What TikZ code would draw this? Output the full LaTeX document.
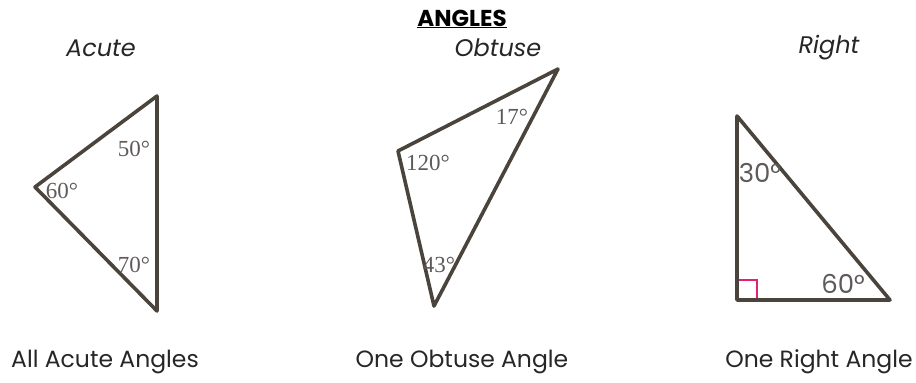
\documentclass[tikz,border=0pt]{standalone}
\usepackage{fontspec}
\setmainfont{Poppins}
\newfontfamily\degfont{Liberation Serif}
\usetikzlibrary{positioning}
\usepackage{xcolor}
\definecolor{edge}{RGB}{74,68,61}
\definecolor{deg}{RGB}{95,90,90}
\definecolor{rightmark}{RGB}{230,30,120}

\begin{document}
\begin{tikzpicture}[
    x=1pt, y=-1pt,
    tri/.style={draw=edge, line width=3.6pt, line join=round},
    head/.style={font=\fontsize{24}{26}\selectfont\itshape, text=black!85},
    caption/.style={font=\fontsize{23.5}{25}\selectfont, text=black!85},
    ang/.style={font=\degfont\fontsize{23}{24}\selectfont, text=deg, inner sep=0pt},
    bigang/.style={font=\fontsize{26}{28}\selectfont, text=deg, inner sep=0pt},
]
\useasboundingbox (0,0) rectangle (916,383);

\node[font=\fontsize{23}{25}\selectfont\bfseries] (title) at (462,19) {\underline{ANGLES}};

% Headings
\node[head] (hacute) at (101,48) {Acute};
\node[head] (hobtuse) at (498,48) {Obtuse};
\node[head] (hright) at (829,48) {Right};

% Acute
\coordinate (a1) at (35,187);
\coordinate (a2) at (157,96);
\coordinate (a3) at (157,311);
\draw[tri] (a1) -- (a2) -- (a3) -- cycle;
\node[ang] (a50) at (134,149) {50\textdegree};
\node[ang] (a60) at (62,191) {60\textdegree};
\node[ang] (a70) at (134,265) {70\textdegree};

% Obtuse
\coordinate (o1) at (398,151);
\coordinate (o2) at (558,69);
\coordinate (o3) at (434,306);
\draw[tri] (o1) -- (o2) -- (o3) -- cycle;
\node[ang] (o17) at (512,117) {17\textdegree};
\node[ang] (o120) at (428,163) {120\textdegree};
\node[ang] (o43) at (439,265) {43\textdegree};

% Right
\coordinate (r1) at (737,116);
\coordinate (r2) at (737,300);
\coordinate (r3) at (890,300);
\draw[rightmark, line width=1.3pt] (737,280) -| (757,300);
\draw[tri] (r1) -- (r2) -- (r3) -- cycle;
\node[bigang] (r30) at (760,173) {30\textdegree};
\node[bigang] (r60) at (843,284) {60\textdegree};

% Captions
\node[caption] (cacute) at (105,362) {All Acute Angles};
\node[caption] (cobtuse) at (462,362) {One Obtuse Angle};
\node[caption] (cright) at (819,362) {One Right Angle};
\end{tikzpicture}
\end{document}
